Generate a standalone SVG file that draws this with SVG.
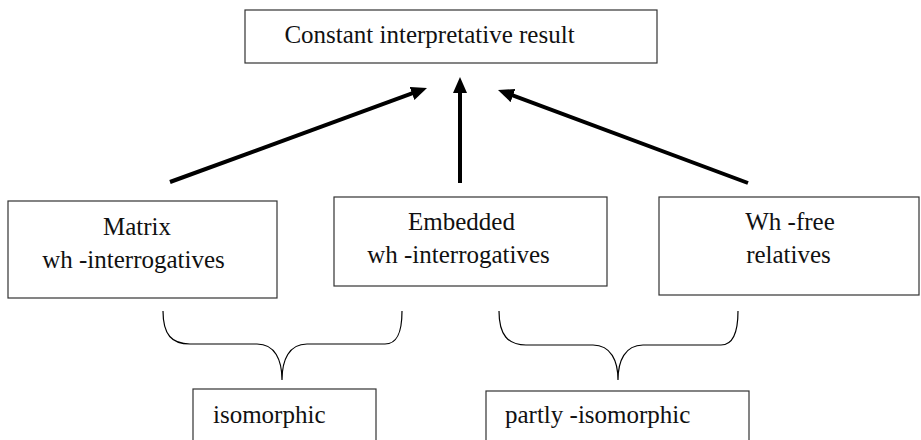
<svg xmlns="http://www.w3.org/2000/svg" width="921" height="440" viewBox="0 0 921 440">
<style>
.box{fill:#fff;stroke:#333;stroke-width:1.2}
.t{font-family:"Liberation Serif",serif;font-size:25px;fill:#111}
.m{text-anchor:middle}
.arr{stroke:#000;stroke-width:4;fill:none}
.brace{stroke:#000;stroke-width:1.2;fill:none}
</style>
<defs>
<marker id="ah" markerUnits="userSpaceOnUse" markerWidth="17" markerHeight="15" refX="8" refY="7" orient="auto" viewBox="0 0 17 15">
<path d="M0,0 L16,7 L0,14 z" fill="#000"/>
</marker>
</defs>
<rect width="921" height="440" fill="#fff"/>
<g id="connectors">
<line class="arr" x1="170" y1="182" x2="419.5" y2="90.7" marker-end="url(#ah)"/>
<line class="arr" x1="460" y1="183" x2="460" y2="85" marker-end="url(#ah)"/>
<line class="arr" x1="748" y1="183" x2="505.5" y2="92.8" marker-end="url(#ah)"/>
<path class="brace" d="M163,311 C163,335 172,344 190,344 L257,344 C275,344 282,360 282,380 C282,360 289,344 307,344 L385,344 C396,344 402,335 402,311"/>
<path class="brace" d="M499,311 C499,335 508,345 526,345 L593,345 C611,345 618,361 618,380 C618,361 625,345 643,345 L721,345 C732,345 738,335 738,311"/>
</g>
<g id="result">
<rect class="box" x="245" y="10" width="412" height="53"/>
<text class="t m" x="429.5" y="43" style="font-family:'Liberation Serif',serif">Constant interpretative result</text>
</g>
<g id="matrix">
<rect class="box" x="8" y="201" width="269" height="97"/>
<text class="t m" x="137" y="235" style="font-family:'Liberation Serif',serif">Matrix</text>
<text class="t m" x="133.5" y="268" style="font-family:'Liberation Serif',serif">wh -interrogatives</text>
</g>
<g id="embedded">
<rect class="box" x="334" y="197" width="273" height="89"/>
<text class="t m" x="461.5" y="230" style="font-family:'Liberation Serif',serif">Embedded</text>
<text class="t m" x="458.5" y="263" style="font-family:'Liberation Serif',serif">wh -interrogatives</text>
</g>
<g id="whfree">
<rect class="box" x="659" y="197" width="260" height="98"/>
<text class="t m" x="790" y="230" style="font-family:'Liberation Serif',serif">Wh -free</text>
<text class="t m" x="788.5" y="263" style="font-family:'Liberation Serif',serif">relatives</text>
</g>
<g id="isomorphic">
<rect class="box" x="193" y="389" width="183" height="60"/>
<text class="t" x="213" y="423" style="font-family:'Liberation Serif',serif">isomorphic</text>
</g>
<g id="partly">
<rect class="box" x="486" y="391" width="263" height="60"/>
<text class="t" x="505" y="423" style="font-family:'Liberation Serif',serif">partly -isomorphic</text>
</g>
</svg>
